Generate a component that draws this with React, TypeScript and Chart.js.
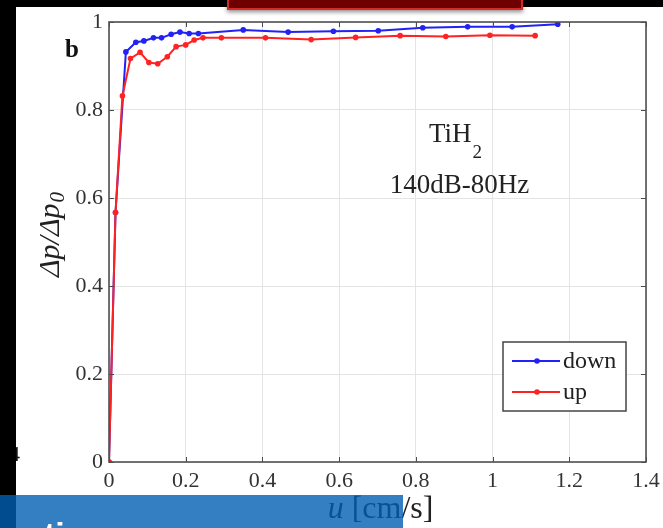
import React, { useEffect, useRef } from 'react';
import { Chart, registerables } from 'chart.js';
Chart.register(...registerables);

const seriesNames = ['down', 'up'];
const downU = [0, 0.017, 0.044, 0.070, 0.091, 0.116, 0.137, 0.162, 0.185, 0.209, 0.233, 0.350, 0.467, 0.585, 0.702, 0.818, 0.935, 1.051, 1.170];
const downV = [0, 0.567, 0.932, 0.954, 0.957, 0.964, 0.964, 0.972, 0.977, 0.974, 0.974, 0.982, 0.977, 0.979, 0.980, 0.987, 0.989, 0.989, 0.995];
const upU = [0, 0.017, 0.035, 0.056, 0.081, 0.104, 0.127, 0.152, 0.175, 0.200, 0.222, 0.245, 0.293, 0.408, 0.527, 0.643, 0.759, 0.878, 0.993, 1.111];
const upV = [0, 0.567, 0.832, 0.917, 0.931, 0.908, 0.905, 0.921, 0.944, 0.948, 0.959, 0.964, 0.964, 0.964, 0.960, 0.965, 0.969, 0.967, 0.970, 0.969];
const xTicks = [0, 0.2, 0.4, 0.6, 0.8, 1, 1.2, 1.4];
const yTicks = [0, 0.2, 0.4, 0.6, 0.8, 1];
const panelLabel = 'b';
const annoMain = 'TiH';
const annoSub = '2';
const annoLine2 = '140dB-80Hz';
const yTitleMain = 'Δp/Δp';
const yTitleSub = '0';
const xTitleVar = 'u';
const xTitleUnit = '[cm/s]';

const SERIF = '"Liberation Serif", "Times New Roman", serif';
const BLUE = '#2222f5';
const RED = '#ff2222';

const fmt = (v: number) => String(Math.round(v * 10) / 10);

const decor = {
  id: 'decor',
  afterDraw(chart: any) {
    const { ctx, chartArea: a, scales } = chart;
    const x = scales.x;
    const y = scales.y;
    ctx.save();
    // inward tick marks
    ctx.strokeStyle = '#4a4a4a';
    ctx.lineWidth = 1;
    ctx.beginPath();
    xTicks.forEach((t) => {
      const px = Math.round(x.getPixelForValue(t)) + 0.5;
      ctx.moveTo(px, a.bottom); ctx.lineTo(px, a.bottom - 5);
      ctx.moveTo(px, a.top); ctx.lineTo(px, a.top + 5);
    });
    yTicks.forEach((t) => {
      const py = Math.round(y.getPixelForValue(t)) + 0.5;
      ctx.moveTo(a.left, py); ctx.lineTo(a.left + 5, py);
      ctx.moveTo(a.right, py); ctx.lineTo(a.right - 5, py);
    });
    ctx.stroke();
    // axes box
    ctx.lineWidth = 1.6;
    ctx.strokeStyle = '#505050';
    ctx.strokeRect(a.left, a.top, a.right - a.left, a.bottom - a.top);

    // panel label
    ctx.fillStyle = '#111';
    ctx.font = `bold 25px ${SERIF}`;
    ctx.textAlign = 'left';
    ctx.textBaseline = 'alphabetic';
    ctx.fillText(panelLabel, a.left - 44, a.top + 35);

    // annotation
    ctx.font = `27px ${SERIF}`;
    const wMain = ctx.measureText(annoMain).width;
    ctx.font = `19px ${SERIF}`;
    const wSub = ctx.measureText(annoSub).width;
    const cx = x.getPixelForValue(0.902);
    const by = y.getPixelForValue(0.728);
    const sx = cx - (wMain + wSub) / 2;
    ctx.fillStyle = '#222';
    ctx.font = `27px ${SERIF}`;
    ctx.fillText(annoMain, sx, by);
    ctx.font = `19px ${SERIF}`;
    ctx.fillText(annoSub, sx + wMain + 1, by + 16);
    ctx.font = `27px ${SERIF}`;
    ctx.textAlign = 'center';
    ctx.fillText(annoLine2, x.getPixelForValue(0.914), y.getPixelForValue(0.611));

    // legend
    const bw = 123, bh = 69;
    const bx = a.right - 20 - bw;
    const byy = a.bottom - 51 - bh;
    ctx.fillStyle = '#fff';
    ctx.fillRect(bx, byy, bw, bh);
    ctx.lineWidth = 1.5;
    ctx.strokeStyle = '#444';
    ctx.strokeRect(bx, byy, bw, bh);
    const items = [
      { name: seriesNames[0], color: BLUE, dy: 19 },
      { name: seriesNames[1], color: RED, dy: 50 },
    ];
    items.forEach((it) => {
      const ly = byy + it.dy;
      ctx.strokeStyle = it.color;
      ctx.lineWidth = 2;
      ctx.beginPath();
      ctx.moveTo(bx + 9, ly); ctx.lineTo(bx + 57, ly);
      ctx.stroke();
      ctx.fillStyle = it.color;
      ctx.beginPath();
      ctx.arc(bx + 34, ly, 2.8, 0, Math.PI * 2);
      ctx.fill();
      ctx.fillStyle = '#222';
      ctx.font = `24px ${SERIF}`;
      ctx.textAlign = 'left';
      ctx.fillText(it.name, bx + 60, ly + 7);
    });

    // y title
    ctx.save();
    const ty = (a.top + a.bottom) / 2 - 7;
    ctx.translate(43, ty);
    ctx.rotate(-Math.PI / 2);
    ctx.font = `italic 30px ${SERIF}`;
    const w1 = ctx.measureText(yTitleMain).width;
    ctx.font = `italic 21px ${SERIF}`;
    const w2 = ctx.measureText(yTitleSub).width;
    const st = -(w1 + w2) / 2;
    ctx.fillStyle = '#222';
    ctx.textAlign = 'left';
    ctx.font = `italic 30px ${SERIF}`;
    ctx.fillText(yTitleMain, st, 0);
    ctx.font = `italic 21px ${SERIF}`;
    ctx.fillText(yTitleSub, st + w1 + 1, 5);
    ctx.restore();

    // x title
    ctx.font = `italic 32px ${SERIF}`;
    const wu = ctx.measureText(xTitleVar + ' ').width;
    ctx.font = `32px ${SERIF}`;
    const wc = ctx.measureText(xTitleUnit).width;
    const xc = (a.left + a.right) / 2 + 3;
    const xs = xc - (wu + wc) / 2;
    const xb = a.bottom + 56;
    ctx.fillStyle = '#222';
    ctx.textAlign = 'left';
    ctx.font = `italic 32px ${SERIF}`;
    ctx.fillText(xTitleVar, xs, xb);
    ctx.font = `32px ${SERIF}`;
    ctx.fillText(xTitleUnit, xs + wu, xb);

    ctx.restore();
  },
};

export default function App() {
  const ref = useRef<HTMLCanvasElement | null>(null);
  useEffect(() => {
    if (!ref.current) return;
    const chart = new Chart(ref.current, {
      type: 'line',
      data: {
        datasets: [
          {
            label: seriesNames[0],
            data: downU.map((u, i) => ({ x: u, y: downV[i] })),
            borderColor: BLUE,
            backgroundColor: BLUE,
            borderWidth: 2,
            pointRadius: 2.8,
            pointBorderWidth: 0,
            tension: 0,
            order: 1,
          },
          {
            label: seriesNames[1],
            data: upU.map((u, i) => ({ x: u, y: upV[i] })),
            borderColor: RED,
            backgroundColor: RED,
            borderWidth: 2,
            pointRadius: 2.8,
            pointBorderWidth: 0,
            tension: 0,
            order: 0,
          },
        ],
      },
      options: {
        responsive: false,
        animation: false,
        devicePixelRatio: 1,
        layout: { padding: { top: 15, right: 17, left: 0, bottom: 0 } },
        plugins: { legend: { display: false }, tooltip: { enabled: false } },
        scales: {
          x: {
            type: 'linear',
            min: 0,
            max: 1.4,
            afterBuildTicks: (s: any) => { s.ticks = xTicks.map((v) => ({ value: v })); },
            ticks: { font: { family: SERIF, size: 22 }, color: '#333', padding: 6, maxRotation: 0, callback: (v: any) => fmt(Number(v)) },
            grid: { color: '#e4e4e4', drawTicks: false, lineWidth: 1 },
            border: { display: false },
            afterFit: (s: any) => { s.height = 66; s.paddingLeft = 0; s.paddingRight = 0; s.paddingTop = 0; s.paddingBottom = 0; },
          },
          y: {
            type: 'linear',
            min: 0,
            max: 1,
            afterBuildTicks: (s: any) => { s.ticks = yTicks.map((v) => ({ value: v })); },
            ticks: { font: { family: SERIF, size: 22 }, color: '#333', padding: 6, callback: (v: any) => fmt(Number(v)) },
            grid: { color: '#e4e4e4', drawTicks: false, lineWidth: 1 },
            border: { display: false },
            afterFit: (s: any) => { s.width = 93; s.paddingLeft = 0; s.paddingRight = 0; s.paddingTop = 0; s.paddingBottom = 0; },
          },
        },
      },
      plugins: [decor],
    } as any);
    return () => chart.destroy();
  }, []);

  return (
    <div style={{ position: 'fixed', left: 0, top: 0, width: 663, height: 528, background: '#000', overflow: 'hidden' }}>
      <div style={{ position: 'absolute', left: 16, top: 7, width: 647, height: 521, background: '#fff' }} />
      <canvas ref={ref} width={647} height={521} style={{ position: 'absolute', left: 16, top: 7, width: 647, height: 521, display: 'block' }} />
      <div style={{ position: 'absolute', left: 16, top: 7, width: 647, height: 521, pointerEvents: 'none' }} />
      <div style={{ position: 'absolute', left: 9, top: 441, font: `22px ${SERIF}`, color: '#111' }}>4</div>
      <div style={{ position: 'absolute', left: 0, top: 0, width: 16, height: 528, background: '#000' }} />
      <div style={{ position: 'absolute', left: 227, top: -4, width: 296, height: 14, boxSizing: 'border-box', background: '#6e0000', border: '2px solid #d42a2a', boxShadow: '0 2px 4px rgba(0,0,0,0.45)' }} />
      <div style={{ position: 'absolute', left: 0, top: 495, width: 403, height: 33, background: 'rgba(0,95,178,0.8)', overflow: 'hidden' }}>
        <div style={{ position: 'absolute', left: 44, top: 22, font: `bold 34px "Liberation Sans", sans-serif`, color: '#fff', lineHeight: '34px' }}>ti</div>
      </div>
    </div>
  );
}
